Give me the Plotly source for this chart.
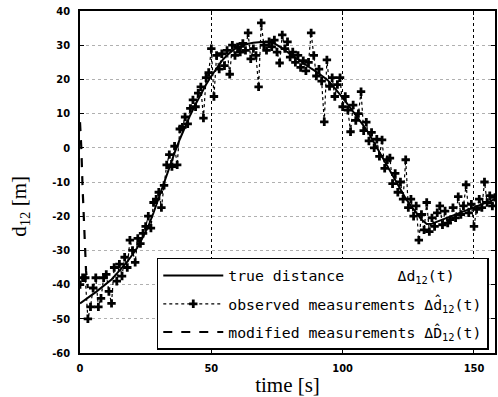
import plotly.graph_objects as go

# true distance, sampled every 2 s
t_true = list(range(0, 160, 2))
d_true = [-45.5, -44.5, -43.3, -42.2, -41, -39.8, -38.5, -36.8, -35.2, -33.3,
          -31.2, -29, -26, -23, -19, -14.5, -10, -5.5, -1.5, 2.5,
          6.2, 9.6, 12.7, 15.7, 18.5, 21, 23.4, 25.4, 27.1, 28.4,
          29.4, 30, 30.4, 30.7, 30.9, 31, 30.9, 30.5, 29.6, 28.5,
          27.4, 26.3, 25.2, 24.2, 23.2, 22.2, 21.2, 20, 18.4, 16.6,
          14.6, 12.6, 10.6, 8.6, 6.4, 4.2, 1.5, -1.2, -4, -6.8,
          -9.6, -12.3, -14.8, -17, -19, -21, -22.3, -22.2, -21.6, -21,
          -20.4, -19.8, -19.2, -18.6, -18, -17.4, -16.8, -16.2, -15.6, -15]

# observed measurements, every 1 s
t_obs = list(range(0, 159))
d_obs = [-40, -38, -38, -50, -46.5, -41, -38, -46.5, -44, -38,
         -37, -42, -45.5, -35, -39, -34, -37.5, -32, -35, -27,
         -30, -33.5, -26.5, -28, -25, -23, -20, -23.5, -16, -15,
         -13, -17.5, -11, -5, -2, -5.5, 0.5, -5, 5.5, 6,
         9, 7, 11.5, 14, 12, 16, 17.8, 8.7, 20.5, 22,
         29, 15, 27, 23, 27.5, 24, 28.5, 21.5, 30, 27,
         29.5, 28, 30.5, 28.5, 33.6, 26, 29, 27, 17.8, 36.5,
         30, 28.5, 31, 29.5, 31.5, 28, 24.8, 33, 29, 31,
         26.5, 28, 25, 27, 23.5, 25.5, 22.5, 25, 33.6, 27,
         21, 23, 19.5, 7.6, 25.7, 18, 20.5, 15, 18.5, 20.5,
         12, 15, 11, 4.7, 12.5, 8, 10, 16.4, 5, 7.5,
         2, 4.5, 0, 2.5, -2.5, 2.3, -6, -3.5, -3, -10.5,
         -7.5, -13, -10, -15, -3.5, -17.5, -15, -20, -17, -27,
         -19.5, -24, -16, -24.5, -20.5, -23, -19, -17, -22.5, -18.5,
         -22, -21, -17.5, -20.5, -14.3, -19.5, -17, -10.8, -19, -16.5,
         -23, -18, -15, -17.5, -10, -16, -14, -17, -14.5]

# modified measurements (initial transient)
t_mod = [0, 0.5, 1.0, 1.6, 2.3, 3.0]
d_mod = [7.5, 0, -12, -25, -36, -41]

x_ticks = [0, 50, 100, 150]
y_ticks = [40, 30, 20, 10, 0, -10, -20, -30, -40, -50, -60]

tick_font = dict(family="Liberation Sans Narrow, Arial Narrow, DejaVu Sans Condensed, Liberation Sans",
                 size=11, color="black", weight="bold")
leg_font = dict(family="DejaVu Sans Mono, Liberation Mono", size=14.8, color="black")
nb = "\u00a0"

fig = go.Figure()
fig.add_trace(go.Scatter(
    x=t_obs, y=d_obs, mode="lines+markers",
    line=dict(color="black", width=1.2, dash="dot"),
    marker=dict(symbol="cross", size=7, color="black"),
    name="observed measurements Δd\u0302<sub>12</sub>(t)", legendrank=2, legendgroup="b"))
fig.add_trace(go.Scatter(
    x=t_true, y=d_true, mode="lines",
    line=dict(color="black", width=2),
    name="true distance" + nb * 6 + "Δd<sub>12</sub>(t)", legendrank=1, legendgroup="a"))
fig.add_trace(go.Scatter(
    x=t_mod, y=d_mod, mode="lines",
    line=dict(color="black", width=2.2, dash="dash"),
    name="modified measurements ΔD\u0302<sub>12</sub>(t)", legendrank=3, legendgroup="c"))

fig.update_layout(
    width=498, height=397,
    margin=dict(l=80, r=1, t=11, b=44),
    paper_bgcolor="white", plot_bgcolor="white",
    showlegend=True,
    legend=dict(x=0.185, y=0.278, xanchor="left", yanchor="top",
                bgcolor="white", bordercolor="black", borderwidth=1.5,
                font=leg_font, itemwidth=60, tracegroupgap=6),
    xaxis=dict(range=[0, 158], tickvals=x_ticks, ticktext=[str(v) for v in x_ticks],
               showline=True, linecolor="black", linewidth=1.5, mirror="ticks",
               ticks="inside", ticklen=4, tickcolor="black",
               showgrid=True, gridcolor="black", griddash="dot", gridwidth=1,
               zeroline=False, tickfont=tick_font, ticklabelstandoff=4,
               title=dict(text="time [s]", font=dict(family="Liberation Serif, Times New Roman, serif",
                                                      size=21, color="black"), standoff=4)),
    yaxis=dict(range=[-60, 40], tickvals=y_ticks, ticktext=[str(v) for v in y_ticks],
               showline=True, linecolor="black", linewidth=1.5, mirror="ticks",
               ticks="inside", ticklen=4, tickcolor="black",
               showgrid=True, gridcolor="#b0b0b0", griddash="dot", gridwidth=1,
               zeroline=False, tickfont=tick_font, ticklabelstandoff=6),
    annotations=[dict(text="d<sub>12</sub> [m]", textangle=-90, xref="paper", yref="paper",
                      x=-0.145, y=0.43, xanchor="center", yanchor="middle", showarrow=False,
                      font=dict(family="Liberation Serif, Times New Roman, serif", size=21,
                                color="black"))],
)

fig.write_html("out.html")
